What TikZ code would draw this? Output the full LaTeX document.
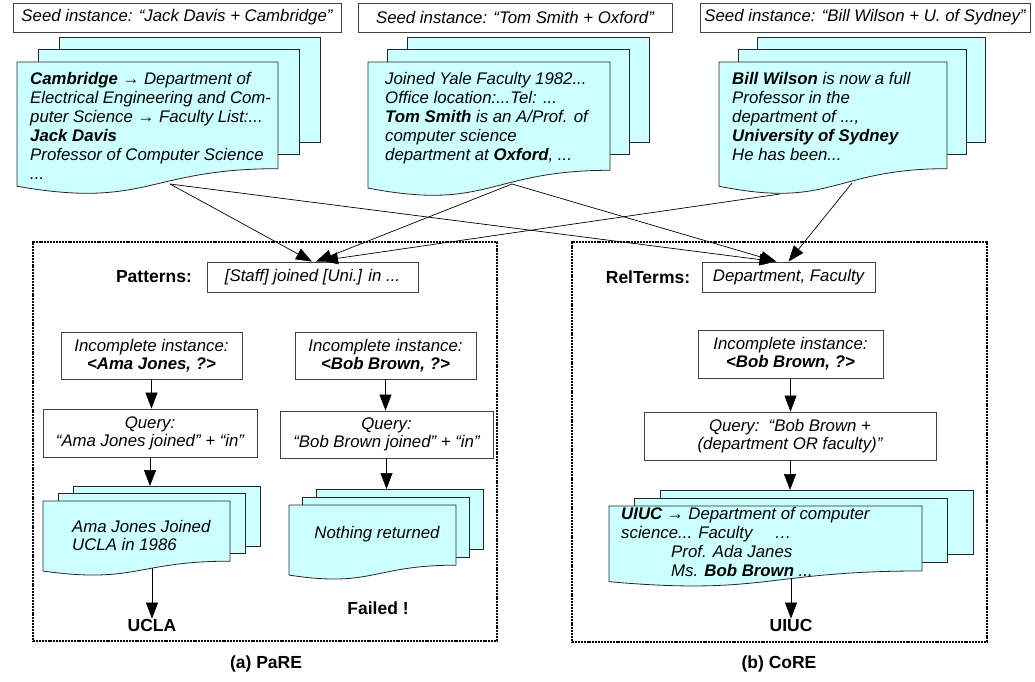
\documentclass[tikz,border=0pt]{standalone}
\usepackage{fontspec}
\setmainfont{Liberation Sans}
\usetikzlibrary{arrows.meta}
\definecolor{docfill}{RGB}{204,255,255}
% #1 name, #2 x, #3 y, #4 w, #5 h, #6 dx, #7 dy, #8 rect height
\newcommand\docstack[8]{%
 \draw[docline] (#2+2*#6,#3-2*#7) rectangle (#2+2*#6+#4,#3-2*#7+#8);
 \draw[docline] (#2+#6,#3-#7) rectangle (#2+#6+#4,#3-#7+#8);
 \draw[docline] (#2,#3) -- (#2+#4,#3) -- (#2+#4,#3+0.802*#5)
   .. controls (#2+0.5*#4,#3+0.802*#5) and (#2+0.5*#4,#3+1.107*#5) .. (#2,#3+0.934*#5) -- cycle;
 \coordinate (#1-top) at (#2+2*#6+0.5*#4,#3-2*#7);
 \coordinate (#1-bot) at (#2+0.583*#4,#3+0.898*#5);
}
\begin{document}
\begin{tikzpicture}[x=1pt,y=-1pt,
 txt/.style={font=\fontsize{16.8}{19}\selectfont\itshape, inner sep=0pt},
 box/.style={draw=black!75, line width=0.8pt, fill=white, inner sep=0pt, align=center, font=\fontsize{16.8}{18}\selectfont\itshape},
 lbl/.style={font=\fontsize{17.5}{20}\selectfont\bfseries, inner sep=0pt},
 docline/.style={draw=black!85, line width=0.8pt, fill=docfill},
 grp/.style={draw=black, line width=2.2pt, dash pattern=on 2pt off 0.9pt, inner sep=0pt},
 arr/.style={line width=0.7pt, -{Triangle[length=16pt,width=12pt]}},
]
\useasboundingbox (0,0) rectangle (1035,681);

% group boxes
\node[grp, minimum width=464pt, minimum height=399pt] (grpA) at (265,441.5) {};
\node[grp, minimum width=415pt, minimum height=400pt] (grpB) at (779.5,442) {};

% seed boxes
\node[box, minimum width=328pt, minimum height=29pt] (seed1) at (177,17.5) {Seed instance: “Jack Davis + Cambridge”};
\node[box, minimum width=314pt, minimum height=29pt] (seed2) at (515,17.5) {Seed instance: “Tom Smith + Oxford”};
\node[box, minimum width=330pt, minimum height=29pt] (seed3) at (865,17.5) {Seed instance: “Bill Wilson + U. of Sydney”};

% top document stacks
\docstack{s1}{17}{62}{261}{133}{21}{12.5}{105}
\docstack{s2}{368}{62}{242}{135}{19.5}{12.5}{105}
\docstack{s3}{719}{62}{228}{133}{19}{12.5}{105}

\node[txt, anchor=north west, align=left] (t1) at (30,72) {\textbf{Cambridge} → Department of\\Electrical Engineering and Com-\\puter Science → Faculty List:...\\\textbf{Jack Davis}\\Professor of Computer Science\\...};
\node[txt, anchor=north west, align=left] (t2) at (385,72) {Joined Yale Faculty 1982...\\Office location:...Tel: ...\\\textbf{Tom Smith} is an A/Prof. of\\computer science\\department at \textbf{Oxford}, ...};
\node[txt, anchor=north west, align=left] (t3) at (732,72) {\textbf{Bill Wilson} is now a full\\Professor in the\\department of ...,\\\textbf{University of Sydney}\\He has been...};

% patterns / relterms
\node[lbl] (patl) at (154,277) {Patterns:};
\node[box, minimum width=211pt, minimum height=30pt] (pat) at (312.5,277) {[Staff] joined [Uni.] in ...};
\node[lbl] (rell) at (648,277) {RelTerms:};
\node[box, minimum width=173pt, minimum height=30pt] (rel) at (788.5,277) {Department, Faculty};

% left column (PaRE)
\node[box, minimum width=181pt, minimum height=47pt] (incA) at (151.5,355.5) {Incomplete instance:\\\textbf{<Ama Jones, ?>}};
\node[box, minimum width=181pt, minimum height=47pt] (incB) at (385.5,355.5) {Incomplete instance:\\\textbf{<Bob Brown, ?>}};
\node[box, minimum width=214pt, minimum height=48pt] (qA) at (150,433) {Query:\\“Ama Jones joined” + “in”};
\node[box, minimum width=213pt, minimum height=47pt] (qB) at (386.5,434.5) {Query:\\“Bob Brown joined” + “in”};

\docstack{sA}{43}{501}{187}{75}{15}{7.5}{60}
\docstack{sB}{289}{505}{167}{75}{13.5}{8}{60}
\node[txt, anchor=north west, align=left, font=\fontsize{16.8}{17.7}\selectfont\itshape] (tA) at (72,520) {Ama Jones Joined\\UCLA in 1986};
\node[txt] (tB) at (377,534) {Nothing returned};

\node[lbl] (ucla) at (152,625) {UCLA};
\node[lbl] (fail) at (378,608) {Failed !};

% right column (CoRE)
\node[box, minimum width=185pt, minimum height=48pt] (incR) at (790.5,354) {Incomplete instance:\\\textbf{<Bob Brown, ?>}};
\node[box, minimum width=292pt, minimum height=48pt] (qR) at (790,436) {Query:\ \ “Bob Brown +\\(department OR faculty)”};
\docstack{sR}{609}{506}{313}{81}{25.5}{8}{64}
\node[txt, anchor=north west, align=left, font=\fontsize{16.8}{19}\selectfont\itshape] (tR) at (621,507) {\textbf{UIUC} → Department of computer\\science... Faculty\hspace{22pt}…\\\hspace*{50pt}Prof. Ada Janes\\\hspace*{50pt}Ms. \textbf{Bob Brown} ...};
\node[lbl] (uiuc) at (791,625) {UIUC};

% captions
\node[lbl] (capA) at (266,664) {(a) PaRE};
\node[lbl] (capB) at (779,664) {(b) CoRE};

% connectors from seed documents
\coordinate (c1) at (170,184);
\coordinate (c2) at (512,184);
\coordinate (c3a) at (852,183);
\coordinate (c3b) at (780,194);
\coordinate (p1) at ([xshift=-0.5pt]pat.north);
\coordinate (p2) at ([xshift=3.5pt]pat.north);
\coordinate (p3) at ([xshift=9.5pt,yshift=1pt]pat.north);
\coordinate (r1) at ([xshift=-13pt]rel.north);
\coordinate (r2) at ([xshift=-12pt]rel.north);
\coordinate (r3) at ([xshift=0pt]rel.north);
\draw[arr] (c1) -- (p1);
\draw[arr] (c2) -- (p2);
\draw[arr] (c3b) -- (p3);
\draw[arr] (c1) -- (r1);
\draw[arr] (c2) -- (r2);
\draw[arr] (c3a) -- (r3);

% flow arrows
\draw[arr] (incA.south) -- (incA.south |- qA.north);
\draw[arr] (qA.south) -- (qA.south |- sA-top);
\draw[arr] (ucla.north |- sA-bot) -- (ucla.north);
\draw[arr] (incB.south) -- (incB.south |- qB.north);
\draw[arr] (qB.south) -- (qB.south |- sB-top);
\draw[arr] (incR.south) -- (incR.south |- qR.north);
\draw[arr] (qR.south) -- (qR.south |- sR-top);
\draw[arr] (uiuc.north |- sR-bot) -- (uiuc.north);
\end{tikzpicture}
\end{document}
